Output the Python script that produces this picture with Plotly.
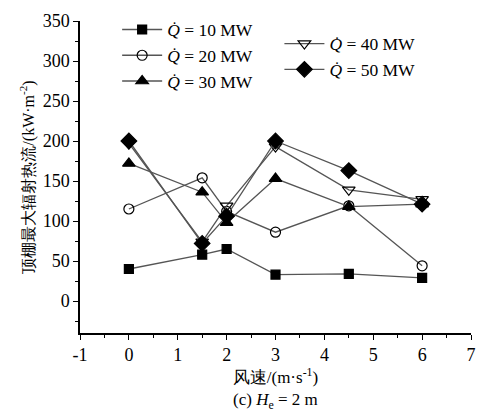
import plotly.graph_objects as go

wind = [0, 1.5, 2, 3, 4.5, 6]
q10 = [40, 58, 65, 33, 34, 29]
q20 = [115, 154, 112, 86, 119, 44]
q30 = [172, 136, 98, 153, 118, 121]
q40 = [197, 74, 119, 193, 139, 127]
q50 = [200, 72, 106, 200, 163, 121]
xticks = list(range(-1, 8))
xticklabels = [str(v) for v in xticks]
yticks = list(range(0, 351, 50))

names = ["<i>Q̇</i> = 10 MW", "<i>Q̇</i> = 20 MW", "<i>Q̇</i> = 30 MW",
         "<i>Q̇</i> = 40 MW", "<i>Q̇</i> = 50 MW"]
series = [q10, q20, q30, q40, q50]
symbols = ["square", "circle-open", "triangle-up", "triangle-down-open", "diamond"]
sizes = [9, 10, 11, 11, 12]
legends = ["legend", "legend", "legend", "legend2", "legend2"]

FONT = "Liberation Serif"
fig = go.Figure()
for n, ys, sym, sz, lg in zip(names, series, symbols, sizes, legends):
    fig.add_trace(go.Scatter(
        x=wind, y=ys, name=n, mode="lines+markers", legend=lg,
        line=dict(color="#555555", width=1.3),
        marker=dict(symbol=sym, size=sz, color="black",
                    line=dict(color="black", width=1.2)),
    ))

fig.update_layout(
    width=490, height=411,
    margin=dict(l=80, r=19, t=15, b=78),
    paper_bgcolor="white", plot_bgcolor="white",
    font=dict(family=FONT, size=17, color="black"),
    showlegend=True,
    legend=dict(x=0.095, y=1.03, xanchor="left", yanchor="top",
                bgcolor="rgba(0,0,0,0)", font=dict(size=17.5, family=FONT),
                tracegroupgap=0, itemwidth=40),
    legend2=dict(x=0.51, y=0.985, xanchor="left", yanchor="top",
                 bgcolor="rgba(0,0,0,0)", font=dict(size=17.5, family=FONT),
                 tracegroupgap=0, itemwidth=40),
    xaxis=dict(range=[-1, 7], tickvals=xticks, ticktext=xticklabels,
               showgrid=False, zeroline=False, showline=True,
               linecolor="black", linewidth=1.5, ticks="outside",
               ticklen=5, tickwidth=1.3, tickcolor="black",
               minor=dict(dtick=0.5, ticks="outside", ticklen=3, tickcolor="black", tickwidth=1.2),
               title=dict(text="风速/(m·s<sup>-1</sup>)", standoff=0,
                          font=dict(size=17, family=FONT)),
               tickfont=dict(size=18)),
    yaxis=dict(range=[-40, 350], tickvals=yticks,
               showgrid=False, zeroline=False, showline=True,
               linecolor="black", linewidth=1.5, ticks="outside",
               ticklen=5, tickwidth=1.3, tickcolor="black",
               minor=dict(dtick=25, ticks="outside", ticklen=3, tickcolor="black", tickwidth=1.2),
               title=dict(text="顶棚最大辐射热流/(kW·m<sup>-2</sup>)", standoff=4,
                          font=dict(size=16, family=FONT)),
               tickfont=dict(size=18)),
)
fig.add_annotation(text="(c) <i>H</i><sub>e</sub> = 2 m", xref="paper", yref="paper",
                   x=0.5, y=-0.218, showarrow=False, xanchor="center", yanchor="middle",
                   font=dict(size=17, family=FONT))
fig.write_html("out.html")
